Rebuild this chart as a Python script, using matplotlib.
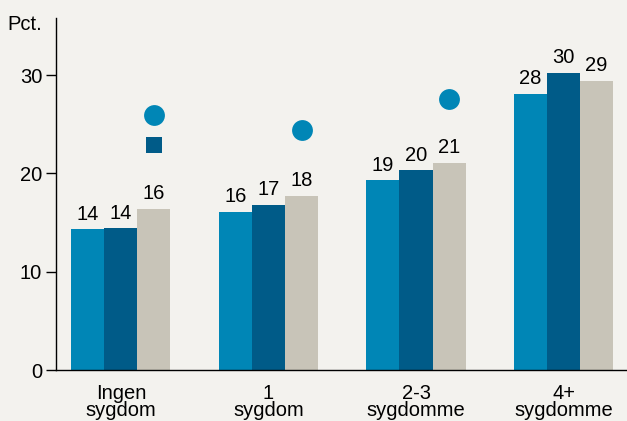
import numpy as np
import matplotlib
matplotlib.use("Agg")
import matplotlib.pyplot as plt

plt.rcParams['font.family'] = ['Liberation Sans', 'DejaVu Sans']

# --- Data ---
categories = ["Ingen\nsygdom", "1\nsygdom", "2-3\nsygdomme", "4+\nsygdomme"]
series_a = [14.3, 16.1, 19.3, 28.1]
series_b = [14.4, 16.8, 20.3, 30.2]
series_c = [16.4, 17.7, 21.1, 29.4]
circle_vals = [25.9, 24.4, 27.6, np.nan]
square_vals = [22.9, np.nan, np.nan, np.nan]
yticks = [0, 10, 20, 30]

col_a = "#0086b6"
col_b = "#005b88"
col_c = "#c8c4b8"
bg = "#f3f2ee"
fs = 14.5

fig = plt.figure(figsize=(6.27, 4.21), dpi=100, facecolor=bg)
ax = fig.add_axes([56 / 627, 51 / 421, 1 - 56 / 627, (370 - 18) / 421])
ax.set_facecolor(bg)

x = np.arange(len(categories))
w = 0.224
for off, vals, col in [(-w, series_a, col_a), (0, series_b, col_b), (w, series_c, col_c)]:
    bars = ax.bar(x + off, vals, width=w, color=col, linewidth=0)
    for b, v in zip(bars, vals):
        ax.annotate(f"{v:.0f}", (b.get_x() + b.get_width() / 2, v),
                    xytext=(0, 7), textcoords="offset points",
                    ha="center", va="baseline", fontsize=fs)

ax.plot(x + w, circle_vals, "o", color=col_a, markersize=15, markeredgewidth=0)
ax.plot(x + w, square_vals, "s", color=col_b, markersize=11.5, markeredgewidth=0)

ax.set_xlim(-0.44, 3.43)
ax.set_ylim(0, 35.8)
ax.set_yticks(yticks)
ax.tick_params(axis="y", length=7, width=1, pad=3, labelsize=fs)
ax.set_xticks(x)
ax.set_xticklabels(categories, fontsize=fs, linespacing=0.9)
ax.tick_params(axis="x", length=0, pad=10)

for s in ["top", "right"]:
    ax.spines[s].set_visible(False)
ax.spines["left"].set_linewidth(1)
ax.spines["bottom"].set_linewidth(1)

fig.text(7 / 627, 1 - 24 / 421, "Pct.", fontsize=fs, ha="left", va="center")

plt.savefig("out.png", dpi=100, facecolor=bg)
